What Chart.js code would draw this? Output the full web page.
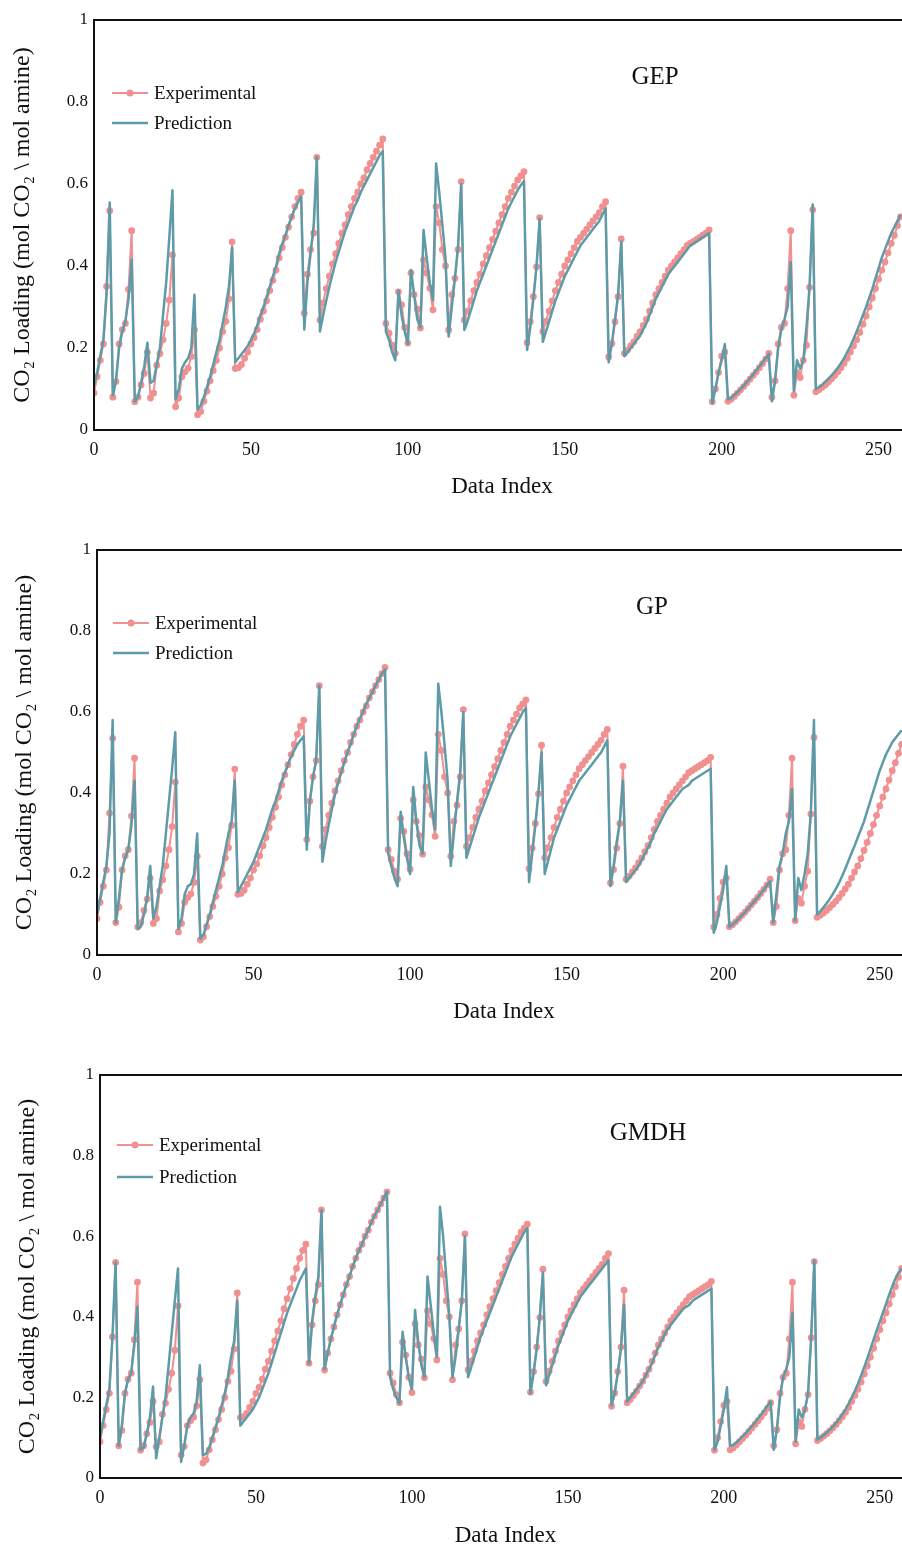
<!DOCTYPE html>
<html>
<head>
<meta charset="utf-8">
<script src="https://cdn.jsdelivr.net/npm/chart.js@4.4.0/dist/chart.umd.min.js"></script>
<style>
  html, body { margin: 0; padding: 0; background: #fff; width: 902px; height: 1548px; overflow: hidden; position: relative; }
  canvas { position: absolute; left: 0; }
</style>
</head>
<body>
<canvas id="gepChart" width="920" height="503" style="top:0px"></canvas>
<canvas id="gpChart" width="920" height="498" style="top:530px"></canvas>
<canvas id="gmdhChart" width="920" height="497" style="top:1055px"></canvas>
<script>
// CO2 loading, experimental values (same in every panel)
const experimental = [
  0.09, 0.13, 0.17, 0.21, 0.35, 0.535, 0.08, 0.118, 0.21, 0.245, 0.26, 0.343, 0.486,
  0.069, 0.08, 0.11, 0.138, 0.19, 0.078, 0.09, 0.158, 0.186, 0.22, 0.26, 0.317, 0.427,
  0.057, 0.078, 0.13, 0.142, 0.151, 0.179, 0.244,
  0.037, 0.045, 0.07, 0.095, 0.12, 0.145, 0.17, 0.2, 0.24, 0.265, 0.32, 0.459,
  0.15, 0.152, 0.16, 0.175, 0.19, 0.21, 0.225, 0.245, 0.27, 0.29, 0.315, 0.34, 0.365, 0.39, 0.42, 0.445, 0.47, 0.495, 0.52, 0.545, 0.565, 0.58,
  0.285, 0.38, 0.44, 0.48, 0.665,
  0.268, 0.31, 0.345, 0.375, 0.405, 0.43, 0.455, 0.48, 0.5, 0.525, 0.545, 0.565, 0.58, 0.6, 0.615, 0.635, 0.65, 0.665, 0.68, 0.695, 0.71,
  0.26, 0.236, 0.207, 0.187, 0.337, 0.305, 0.25, 0.212, 0.383, 0.33, 0.295, 0.249, 0.415, 0.383, 0.346, 0.293, 0.545, 0.505, 0.44, 0.4, 0.244, 0.33, 0.37, 0.44, 0.606,
  0.268, 0.29, 0.315, 0.34, 0.36, 0.38, 0.405, 0.425, 0.445, 0.465, 0.485, 0.505, 0.525, 0.545, 0.565, 0.58, 0.595, 0.61, 0.62, 0.63,
  0.213, 0.264, 0.325, 0.398, 0.518,
  0.24, 0.265, 0.29, 0.315, 0.34, 0.36, 0.38, 0.4, 0.415, 0.43, 0.445, 0.46, 0.47, 0.48, 0.49, 0.5, 0.51, 0.52, 0.53, 0.545, 0.557,
  0.178, 0.211, 0.264, 0.325, 0.466,
  0.187, 0.195, 0.205, 0.215, 0.228, 0.24, 0.255, 0.27, 0.29, 0.31, 0.33, 0.345, 0.36, 0.375, 0.39, 0.4, 0.41, 0.42, 0.43, 0.44, 0.45, 0.455, 0.46, 0.465, 0.47, 0.475, 0.48, 0.488,
  0.069, 0.1, 0.14, 0.18, 0.19, 0.07,
  0.075, 0.082, 0.09, 0.098, 0.106, 0.115, 0.124, 0.133, 0.142, 0.152, 0.162, 0.173, 0.187,
  0.08, 0.12, 0.21, 0.25, 0.26, 0.345, 0.486,
  0.085, 0.14, 0.128, 0.17, 0.207, 0.348, 0.537,
  0.093, 0.098, 0.104, 0.11, 0.117, 0.125, 0.133, 0.142, 0.152, 0.163, 0.175, 0.19, 0.205, 0.22, 0.238, 0.258, 0.278, 0.3, 0.322, 0.345, 0.368, 0.39, 0.41, 0.432, 0.455, 0.475, 0.498, 0.52
];

const gepPrediction = [
  0.11, 0.14, 0.18, 0.22, 0.33, 0.555, 0.085, 0.12, 0.2, 0.24, 0.265, 0.32, 0.415,
  0.07, 0.08, 0.115, 0.155, 0.213, 0.115, 0.12, 0.16, 0.2, 0.28, 0.36, 0.47, 0.585,
  0.075, 0.1, 0.15, 0.165, 0.175, 0.2, 0.33,
  0.05, 0.06, 0.08, 0.105, 0.13, 0.16, 0.19, 0.22, 0.26, 0.3, 0.35, 0.445,
  0.165, 0.175, 0.185, 0.195, 0.205, 0.22, 0.235, 0.255, 0.28, 0.3, 0.325, 0.35, 0.375, 0.4, 0.43, 0.455, 0.475, 0.5, 0.52, 0.54, 0.555, 0.57,
  0.245, 0.36, 0.43, 0.5, 0.665,
  0.24, 0.28, 0.315, 0.35, 0.38, 0.41, 0.435, 0.46, 0.485, 0.505, 0.525, 0.545, 0.56, 0.58, 0.595, 0.61, 0.625, 0.64, 0.655, 0.67, 0.68,
  0.24, 0.22, 0.19, 0.17, 0.34, 0.28, 0.24, 0.21, 0.39, 0.33, 0.27, 0.25, 0.488, 0.42, 0.36, 0.317, 0.65, 0.58, 0.5, 0.42, 0.228, 0.3, 0.37, 0.45, 0.6,
  0.244, 0.265, 0.29, 0.315, 0.34, 0.36, 0.38, 0.4, 0.42, 0.44, 0.46, 0.48, 0.5, 0.52, 0.54, 0.555, 0.57, 0.585, 0.597, 0.607,
  0.195, 0.25, 0.32, 0.4, 0.515,
  0.215, 0.24, 0.265, 0.29, 0.315, 0.335, 0.355, 0.375, 0.39, 0.405, 0.42, 0.435, 0.45, 0.46, 0.47, 0.48, 0.49, 0.5, 0.51, 0.525, 0.54,
  0.165, 0.21, 0.27, 0.33, 0.46,
  0.18, 0.19, 0.2, 0.21, 0.22, 0.23, 0.245, 0.26, 0.28, 0.3, 0.32, 0.335, 0.35, 0.365, 0.38, 0.39, 0.4, 0.41, 0.42, 0.43, 0.44, 0.45, 0.455, 0.46, 0.465, 0.47, 0.475, 0.48,
  0.065, 0.1, 0.14, 0.17, 0.21, 0.075,
  0.078, 0.085, 0.092, 0.1, 0.108, 0.117, 0.126, 0.135, 0.145, 0.155, 0.165, 0.175, 0.185,
  0.07, 0.12, 0.2, 0.245, 0.27, 0.3, 0.41,
  0.095, 0.17, 0.15, 0.17, 0.25, 0.35, 0.55,
  0.1, 0.105, 0.11, 0.118, 0.125, 0.133, 0.142, 0.152, 0.163, 0.175, 0.19, 0.205, 0.222, 0.24, 0.26, 0.28, 0.3, 0.322, 0.345, 0.37, 0.395, 0.42, 0.44, 0.46, 0.48, 0.495, 0.51, 0.525
];

const gpPrediction = [
  0.1, 0.14, 0.18, 0.22, 0.3, 0.58, 0.08, 0.14, 0.21, 0.24, 0.26, 0.32, 0.43,
  0.065, 0.07, 0.1, 0.14, 0.22, 0.09, 0.12, 0.17, 0.22, 0.3, 0.38, 0.46, 0.55,
  0.065, 0.09, 0.15, 0.17, 0.175, 0.2, 0.3,
  0.04, 0.05, 0.075, 0.1, 0.13, 0.16, 0.19, 0.22, 0.26, 0.3, 0.33, 0.43,
  0.155, 0.17, 0.185, 0.2, 0.215, 0.23, 0.25, 0.27, 0.29, 0.31, 0.335, 0.36, 0.38, 0.405, 0.43, 0.45, 0.47, 0.49, 0.505, 0.52, 0.53, 0.54,
  0.26, 0.38, 0.44, 0.48, 0.665,
  0.23, 0.28, 0.32, 0.36, 0.395, 0.425, 0.45, 0.475, 0.5, 0.52, 0.545, 0.565, 0.585, 0.6, 0.62, 0.635, 0.65, 0.665, 0.68, 0.695, 0.705,
  0.25, 0.22, 0.19, 0.17, 0.354, 0.29, 0.24, 0.2, 0.415, 0.33, 0.27, 0.25, 0.5, 0.43, 0.36, 0.31, 0.67, 0.6, 0.52, 0.43, 0.22, 0.3, 0.38, 0.45, 0.6,
  0.24, 0.265, 0.29, 0.315, 0.34, 0.36, 0.38, 0.4, 0.42, 0.44, 0.46, 0.48, 0.5, 0.52, 0.54, 0.555, 0.57, 0.585, 0.6, 0.61,
  0.18, 0.25, 0.32, 0.4, 0.5,
  0.2, 0.23, 0.26, 0.29, 0.31, 0.33, 0.35, 0.37, 0.385, 0.4, 0.415, 0.43, 0.44, 0.45, 0.46, 0.47, 0.48, 0.49, 0.5, 0.515, 0.53,
  0.17, 0.22, 0.28, 0.33, 0.43,
  0.18, 0.19, 0.2, 0.21, 0.22, 0.235, 0.25, 0.265, 0.28, 0.3, 0.315, 0.33, 0.345, 0.36, 0.37, 0.38, 0.39, 0.4, 0.41, 0.415, 0.42, 0.43, 0.435, 0.44, 0.445, 0.45, 0.455, 0.46,
  0.055, 0.08, 0.12, 0.16, 0.22, 0.07,
  0.075, 0.082, 0.09, 0.098, 0.106, 0.115, 0.124, 0.133, 0.142, 0.152, 0.162, 0.172, 0.182,
  0.08, 0.15, 0.22, 0.25, 0.3, 0.33, 0.41,
  0.085, 0.19, 0.16, 0.2, 0.25, 0.35, 0.58,
  0.1, 0.108, 0.117, 0.127, 0.138, 0.15, 0.163, 0.178, 0.195, 0.213, 0.232, 0.252, 0.27, 0.29, 0.31, 0.33, 0.355, 0.38, 0.405, 0.43, 0.455, 0.475, 0.495, 0.51, 0.525, 0.535, 0.545, 0.555
];

const gmdhPrediction = [
  0.1, 0.14, 0.18, 0.22, 0.35, 0.535, 0.08, 0.13, 0.21, 0.245, 0.26, 0.33, 0.425,
  0.07, 0.075, 0.11, 0.15, 0.227, 0.049, 0.1, 0.15, 0.2, 0.28, 0.36, 0.44, 0.52,
  0.04, 0.08, 0.13, 0.15, 0.16, 0.19, 0.28,
  0.057, 0.06, 0.075, 0.1, 0.125, 0.15, 0.18, 0.21, 0.25, 0.3, 0.34, 0.44,
  0.13, 0.14, 0.15, 0.16, 0.17, 0.185, 0.2, 0.22, 0.24, 0.26, 0.285, 0.31, 0.335, 0.36, 0.385, 0.41, 0.43, 0.45, 0.47, 0.49, 0.505, 0.52,
  0.285, 0.39, 0.45, 0.5, 0.665,
  0.27, 0.31, 0.345, 0.375, 0.405, 0.43, 0.455, 0.48, 0.5, 0.525, 0.545, 0.565, 0.58, 0.6, 0.615, 0.635, 0.65, 0.665, 0.68, 0.695, 0.71,
  0.25, 0.22, 0.2, 0.186, 0.363, 0.3, 0.25, 0.22, 0.417, 0.34, 0.28, 0.25, 0.5, 0.43, 0.36, 0.3, 0.673, 0.6, 0.5, 0.4, 0.25, 0.3, 0.37, 0.44, 0.6,
  0.25, 0.275, 0.3, 0.325, 0.35, 0.37, 0.39, 0.41, 0.43, 0.45, 0.47, 0.49, 0.51, 0.53, 0.55, 0.565, 0.58, 0.595, 0.61, 0.62,
  0.21, 0.26, 0.32, 0.4, 0.51,
  0.23, 0.255, 0.28, 0.305, 0.33, 0.35, 0.37, 0.39, 0.405, 0.42, 0.435, 0.45, 0.46, 0.47, 0.48, 0.49, 0.5, 0.51, 0.52, 0.53, 0.54,
  0.18, 0.21, 0.26, 0.32, 0.43,
  0.19, 0.2, 0.21, 0.22, 0.23, 0.24, 0.255, 0.27, 0.285, 0.305, 0.325, 0.34, 0.355, 0.37, 0.38, 0.39, 0.4, 0.41, 0.42, 0.425, 0.43, 0.44, 0.445, 0.45, 0.455, 0.46, 0.465, 0.47,
  0.07, 0.09, 0.13, 0.17, 0.225, 0.08,
  0.082, 0.088, 0.095, 0.103, 0.111, 0.12, 0.129, 0.138, 0.148, 0.158, 0.168, 0.18, 0.19,
  0.07, 0.12, 0.2, 0.25, 0.27, 0.3, 0.41,
  0.09, 0.17, 0.15, 0.17, 0.21, 0.35, 0.54,
  0.095, 0.1, 0.106, 0.113, 0.12, 0.128, 0.137, 0.147, 0.158, 0.17, 0.184, 0.2, 0.216, 0.234, 0.254, 0.275, 0.297, 0.32, 0.343, 0.366, 0.388, 0.41, 0.432, 0.455, 0.475, 0.495, 0.51, 0.52
];

const xTicks = [0, 50, 100, 150, 200, 250];
const yTicks = [0, 0.2, 0.4, 0.6, 0.8, 1];
const seriesNames = ["Experimental", "Prediction"];

const SERIF = '"Liberation Serif", "Times New Roman", serif';
const EXP_COLOR = "#f09090";
const PRED_COLOR = "#5e9ba8";

const toPoints = arr => arr.map((v, i) => ({ x: i, y: v }));

// box around the plot, model name and an in-plot legend
const framePlugin = {
  id: "frame",
  afterDraw(chart, args, opts) {
    const { ctx, chartArea: a } = chart;
    ctx.save();
    ctx.strokeStyle = "#111";
    ctx.lineWidth = 2;
    ctx.strokeRect(a.left, a.top, a.right - a.left, a.bottom - a.top);

    ctx.fillStyle = "#111";
    ctx.font = "25px " + SERIF;
    ctx.textAlign = "center";
    ctx.textBaseline = "middle";
    ctx.fillText(opts.name, a.left + opts.nameX, a.top + opts.nameY);

    const lx = a.left + opts.legX;
    ctx.font = "19px " + SERIF;
    ctx.textAlign = "left";
    // experimental
    let y = a.top + opts.legY;
    ctx.strokeStyle = EXP_COLOR;
    ctx.lineWidth = 2;
    ctx.beginPath(); ctx.moveTo(lx, y); ctx.lineTo(lx + 36, y); ctx.stroke();
    ctx.fillStyle = EXP_COLOR;
    ctx.beginPath(); ctx.arc(lx + 18, y, 3.5, 0, Math.PI * 2); ctx.fill();
    ctx.fillStyle = "#111";
    ctx.fillText(seriesNames[0], lx + 42, y + 1);
    // prediction
    y += opts.legGap;
    ctx.strokeStyle = PRED_COLOR;
    ctx.lineWidth = 2.5;
    ctx.beginPath(); ctx.moveTo(lx, y); ctx.lineTo(lx + 36, y); ctx.stroke();
    ctx.fillText(seriesNames[1], lx + 42, y + 1);
    ctx.restore();
  }
};

function makePanel(id, name, prediction, g) {
  return new Chart(document.getElementById(id), {
    type: "line",
    data: {
      datasets: [
        {
          label: seriesNames[1],
          data: toPoints(prediction),
          borderColor: PRED_COLOR,
          borderWidth: 2.5,
          borderJoinStyle: "round",
          pointRadius: 0,
          tension: 0,
          order: 0
        },
        {
          label: seriesNames[0],
          data: toPoints(experimental),
          borderColor: EXP_COLOR,
          borderWidth: 2,
          borderJoinStyle: "round",
          pointRadius: 3.4,
          pointBackgroundColor: EXP_COLOR,
          pointBorderWidth: 0,
          tension: 0,
          order: 1
        }
      ]
    },
    options: {
      responsive: false,
      animation: false,
      devicePixelRatio: 1,
      layout: { padding: { top: g.top, right: g.right, left: 0, bottom: 0 } },
      plugins: {
        legend: { display: false },
        tooltip: { enabled: false },
        frame: { name: name, nameX: g.nameX, nameY: g.nameY, legX: g.legX, legY: g.legY, legGap: g.legGap }
      },
      scales: {
        x: {
          type: "linear",
          min: 0,
          max: 260,
          afterFit: s => { s.height = g.xh; },
          afterBuildTicks: s => { s.ticks = xTicks.map(v => ({ value: v })); },
          grid: { display: false, drawTicks: false },
          border: { display: false },
          ticks: { color: "#111", font: { family: SERIF, size: 18 }, padding: 9, maxRotation: 0 },
          title: { display: true, text: "Data Index", color: "#111", font: { family: SERIF, size: 23 }, padding: { top: 0, bottom: 2 } }
        },
        y: {
          min: 0,
          max: 1,
          afterFit: s => { s.width = g.left; },
          afterBuildTicks: s => { s.ticks = yTicks.map(v => ({ value: v })); },
          grid: { display: false, drawTicks: false },
          border: { display: false },
          ticks: { color: "#111", font: { family: SERIF, size: 17 }, padding: 6, callback: v => String(+v.toFixed(1)) },
          title: {
            display: true,
            text: "CO\u2082 Loading (mol CO\u2082 \\ mol amine)",
            color: "#111",
            font: { family: SERIF, size: 24 },
            padding: { top: g.ytPad, bottom: 0 }
          }
        }
      }
    },
    plugins: [framePlugin]
  });
}

makePanel("gepChart", "GEP", gepPrediction,
  { top: 20, right: 10, left: 94, xh: 73, nameX: 561, nameY: 57, legX: 18, legY: 73, legGap: 30, ytPad: 8 });
makePanel("gpChart", "GP", gpPrediction,
  { top: 20, right: 9, left: 97, xh: 73, nameX: 555, nameY: 57, legX: 16, legY: 73, legGap: 30, ytPad: 10 });
makePanel("gmdhChart", "GMDH", gmdhPrediction,
  { top: 20, right: 9, left: 100, xh: 74, nameX: 548, nameY: 58, legX: 17, legY: 70, legGap: 32, ytPad: 13 });
</script>
</body>
</html>
